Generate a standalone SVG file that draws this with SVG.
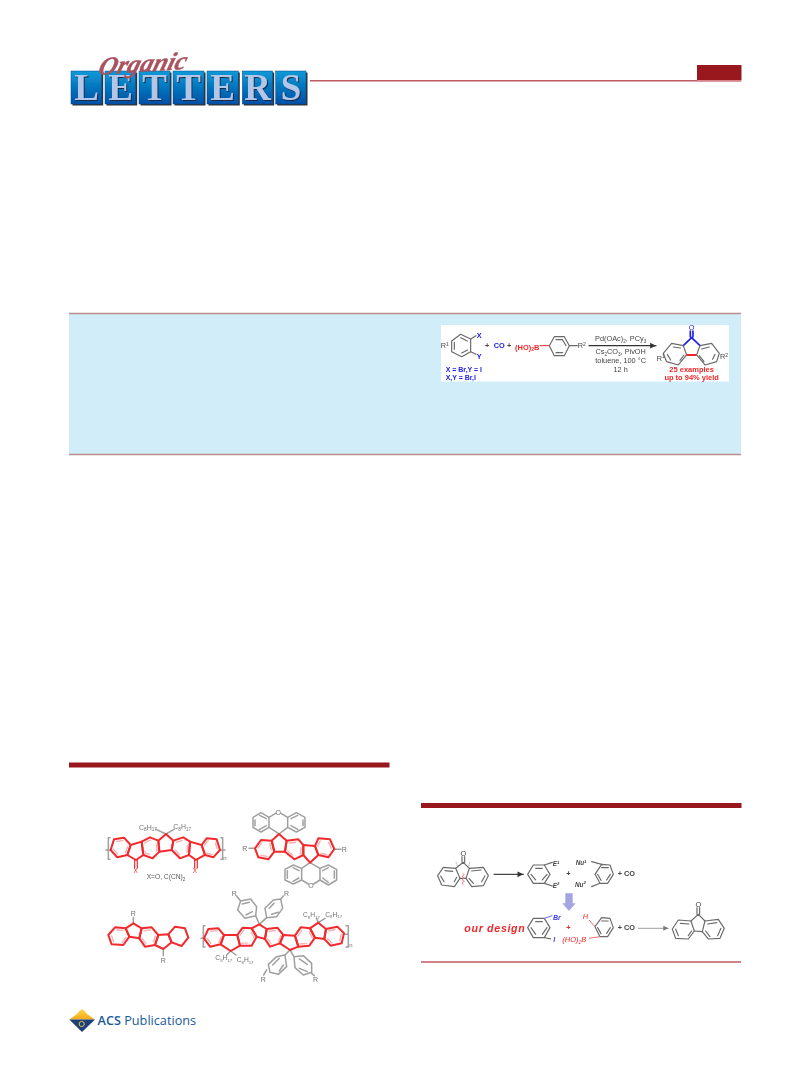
<svg xmlns="http://www.w3.org/2000/svg" width="809" height="1067" viewBox="0 0 809 1067">
<style>
text{font-family:"Liberation Sans",Arial,sans-serif}
.r,.g,.k,.p,.b{fill:none;stroke-linejoin:round;stroke-linecap:round}
.r{stroke:#f2292d;stroke-width:6}
.p{stroke:#f9b4b4;stroke-width:6;stroke-linecap:butt}
.g{stroke:#a0a0a0;stroke-width:4.500}
.k{stroke:#6a6a6a;stroke-width:3.500}
.b{stroke:#2020e0;stroke-width:5}
.gt{fill:#707070;font-size:21px}
.kt{fill:#444;font-size:22px}
.bt{fill:#2222e0;font-size:22px;font-weight:bold}
.rt{fill:#f0282c;font-size:22.500px;font-weight:bold}
.tile{fill:url(#tileFill);stroke:#0a4a96;stroke-width:.5}
.ls{font-family:"Liberation Serif",serif;font-weight:bold;font-size:37px;text-anchor:middle}
.bar{fill:#98181e}
.rule{stroke:#c05a62;stroke-width:1.500}
</style>
<defs>
<linearGradient id="tileFill" x1="0" y1="0" x2="0" y2="1"><stop offset="0" stop-color="#0a9ad6"/><stop offset="1" stop-color="#0050a6"/></linearGradient>
<linearGradient id="gold" x1="0" y1="0" x2="0" y2="1"><stop offset="0" stop-color="#ffd84a"/><stop offset="1" stop-color="#f3a91c"/></linearGradient>
<filter id="soft" x="-5%" y="-5%" width="110%" height="110%"><feGaussianBlur stdDeviation="0.6"/></filter>
<filter id="soft2" x="-5%" y="-5%" width="110%" height="110%"><feGaussianBlur stdDeviation="0.35"/></filter>
<marker id="ah" markerWidth="6" markerHeight="6" refX="5" refY="3" orient="auto"><path d="M0 0.5L5 3L0 5.500Z" fill="#333"/></marker>
<marker id="ahg" markerWidth="6" markerHeight="6" refX="5" refY="3" orient="auto"><path d="M0 0.5L5 3L0 5.500Z" fill="#777"/></marker>
</defs>
<rect width="809" height="1067" fill="#fff"/>

<g id="journal-logo" filter="url(#soft2)">
<g fill="#333">
<rect x="72.500" y="72.500" width="30.700" height="33"/><rect x="106.500" y="72.500" width="30.700" height="33"/><rect x="140.500" y="72.500" width="31" height="33"/><rect x="174.500" y="72.500" width="31" height="33"/><rect x="208.500" y="72.500" width="31.300" height="33"/><rect x="243.800" y="72.500" width="30.400" height="33"/><rect x="277.200" y="72.500" width="30.300" height="33"/>
</g>
<rect class="tile" x="71" y="71" width="30.700" height="33"/><rect class="tile" x="105" y="71" width="30.700" height="33"/><rect class="tile" x="139" y="71" width="31" height="33"/><rect class="tile" x="173" y="71" width="31" height="33"/><rect class="tile" x="207" y="71" width="31.300" height="33"/><rect class="tile" x="242.300" y="71" width="30.400" height="33"/><rect class="tile" x="275.700" y="71" width="30.300" height="33"/>
<g transform="translate(1 1)">
<text class="ls" x="86.500" y="99.500" fill="#1c2a48">L</text><text class="ls" x="120.500" y="99.500" fill="#1c2a48">E</text><text class="ls" x="154.500" y="99.500" fill="#1c2a48">T</text><text class="ls" x="188.500" y="99.500" fill="#1c2a48">T</text><text class="ls" x="222.500" y="99.500" fill="#1c2a48">E</text><text class="ls" x="257.500" y="99.500" fill="#1c2a48">R</text><text class="ls" x="291" y="99.500" fill="#1c2a48">S</text>
</g>
<text class="ls" x="86.500" y="99.500" fill="#b2c6e8">L</text><text class="ls" x="120.500" y="99.500" fill="#b2c6e8">E</text><text class="ls" x="154.500" y="99.500" fill="#b2c6e8">T</text><text class="ls" x="188.500" y="99.500" fill="#b2c6e8">T</text><text class="ls" x="222.500" y="99.500" fill="#b2c6e8">E</text><text class="ls" x="257.500" y="99.500" fill="#b2c6e8">R</text><text class="ls" x="291" y="99.500" fill="#b2c6e8">S</text>
<text x="0" y="0" transform="translate(97 75) rotate(-4) skewX(-20)" textLength="88" lengthAdjust="spacingAndGlyphs" style="font-family:'Liberation Serif',serif;font-style:italic;font-weight:bold;font-size:25px" fill="#a9525f" stroke="#a9525f" stroke-width=".4">Organic</text>
</g>

<g id="page-header">
<line class="rule" x1="310" y1="80.800" x2="741" y2="80.800"/>
<rect class="bar" x="697" y="65" width="44.500" height="15"/>
<rect x="697" y="80" width="44.500" height="1.500" fill="#d8868c"/>
</g>

<g id="abstract-box">
<rect x="69" y="313" width="672" height="142" fill="#d1edfa"/>
<line x1="69" y1="313.500" x2="741" y2="313.500" stroke="#c08c8a" stroke-width="1.500"/>
<line x1="69" y1="454.500" x2="741" y2="454.500" stroke="#c08c8a" stroke-width="1.500"/>
<rect x="441" y="325" width="288" height="56.500" fill="#fff"/>
<g filter="url(#soft)"><g transform="translate(430 315) scale(.3333)">
<polygon class="k" points="92,58 122,72 122,110 95,125 65,110 65,78"/>
<polyline class="k" points="122,72 138,62"/><polyline class="k" points="122,110 138,118"/>
<path class="k" d="M92,68L112,78M113,105L95,114M73,103L73,82"/>
<text class="kt" x="32" y="100">R<tspan font-size="15" dy="-8">1</tspan></text>
<text class="bt" x="140" y="68">X</text><text class="bt" x="140" y="131">Y</text>
<text class="bt" x="47" y="172" style="font-size:21px">X = Br,Y = I</text>
<text class="bt" x="47" y="196" style="font-size:21px">X,Y = Br,I</text>
<text class="kt" x="165" y="100" style="font-weight:bold">+</text><text class="bt" x="191" y="100">CO</text><text class="kt" x="231" y="100" style="font-weight:bold">+</text>
<text class="rt" x="255" y="104">(HO)<tspan font-size="15" dy="5">2</tspan><tspan dy="-5">B</tspan></text>
<polyline class="r" style="stroke-width:3" points="330,92 358,92"/>
<polygon class="k" points="358,92 373,65 403,65 418,92 403,122 373,122"/>
<path class="k" d="M378,74L398,74M378,113L398,113M408,92L398,75"/>
<polyline class="k" points="418,92 442,92"/>
<text class="kt" x="443" y="100">R<tspan font-size="15" dy="-8">2</tspan></text>
<line class="k" x1="477" y1="92" x2="678" y2="92" marker-end="url(#ah)" style="stroke:#333"/>
<text class="kt" x="572" y="79" text-anchor="middle">Pd(OAc)<tspan font-size="14" dy="5">2</tspan><tspan dy="-5">, PCy</tspan><tspan font-size="14" dy="5">3</tspan></text>
<text class="kt" x="572" y="118" text-anchor="middle">Cs<tspan font-size="14" dy="5">2</tspan><tspan dy="-5">CO</tspan><tspan font-size="14" dy="5">3</tspan><tspan dy="-5">, PivOH</tspan></text>
<text class="kt" x="572" y="144" text-anchor="middle">toluene, 100 °C</text>
<text class="kt" x="572" y="170" text-anchor="middle">12 h</text>
<text class="bt" x="785" y="45" text-anchor="middle" style="font-weight:normal">O</text>
<path class="b" d="M781,48L781,66M789,48L789,66M785,68L760,92M785,68L810,92"/>
<polygon class="k" points="725,85 760,92 770,120 745,150 710,140 700,115"/>
<polygon class="k" points="810,92 845,85 868,115 860,140 825,150 800,120"/>
<path class="k" d="M730,96L752,99M712,118L722,135M750,136L762,120M815,102L838,96M855,118L848,133M808,122L822,140"/>
<line x1="770" y1="120" x2="800" y2="120" stroke="#f0282c" stroke-width="6"/>
<text class="kt" x="680" y="138">R<tspan font-size="15" dy="-8">1</tspan></text>
<text class="kt" x="870" y="133">R<tspan font-size="15" dy="-8">2</tspan></text>
<text class="rt" x="785" y="172" text-anchor="middle">25 examples</text>
<text class="rt" x="785" y="195" text-anchor="middle">up to 94% yield</text>
</g></g>
</g>

<g id="section-bars">
<rect class="bar" x="69" y="762.500" width="320.500" height="5"/>
<rect class="bar" x="421" y="803" width="320.500" height="5"/>
<line class="rule" x1="421" y1="962" x2="741" y2="962"/>
</g>

<g id="materials-figure" filter="url(#soft)">
<g id="polymer-ketone" transform="translate(90 800) scale(.3333)">
<path class="g" d="M60,113L55,113L55,178L60,178M393,113L398,113L398,178L393,178M48,150L65,150M390,150L405,150M228,102L198,88M228,102L252,88"/>
<polygon class="p" pathLength="6" stroke-dasharray="1 1" points="72,118 102,113 122,135 112,165 82,172 62,150" transform="translate(92 143) scale(.72) translate(-92 -143)"/>
<polygon class="p" pathLength="6" stroke-dasharray="1 1" points="155,125 180,112 205,122 208,155 188,175 160,165" transform="translate(182 143) scale(.72) translate(-182 -143)"/>
<polygon class="p" pathLength="6" stroke-dasharray="1 1" points="250,122 280,112 300,125 297,165 270,175 245,150" transform="translate(274 143) scale(.72) translate(-274 -143)"/>
<polygon class="p" pathLength="6" stroke-dasharray="1 1" points="335,135 350,115 380,118 390,150 370,172 345,165" transform="translate(362 143) scale(.72) translate(-362 -143)"/>
<polygon class="r" points="72,118 102,113 122,135 112,165 82,172 62,150"/>
<polygon class="r" points="155,125 180,112 205,122 208,155 188,175 160,165"/>
<polygon class="r" points="250,122 280,112 300,125 297,165 270,175 245,150"/>
<polygon class="r" points="335,135 350,115 380,118 390,150 370,172 345,165"/>
<polygon class="r" points="122,135 155,125 160,165 138,180 112,165"/>
<polygon class="r" points="205,122 228,102 250,122 245,150 208,155"/>
<polygon class="r" points="300,125 335,135 345,165 318,180 297,165"/>
<path class="r" style="stroke-width:3.500" d="M134,181L134,204M142,181L142,204M314,181L314,204M322,181L322,204"/>
<text class="rt" x="137" y="219" text-anchor="middle" style="font-weight:normal;font-size:19px">X</text>
<text class="rt" x="315" y="219" text-anchor="middle" style="font-weight:normal;font-size:19px">X</text>
<text class="gt" x="147" y="89">C<tspan font-size="14" dy="5">8</tspan><tspan dy="-5">H</tspan><tspan font-size="14" dy="5">17</tspan></text>
<text class="gt" x="250" y="87">C<tspan font-size="14" dy="5">8</tspan><tspan dy="-5">H</tspan><tspan font-size="14" dy="5">17</tspan></text>
<text class="gt" x="400" y="180" style="font-size:18px">n</text>
<text class="gt" x="170" y="237" style="fill:#555;font-size:20px">X=O, C(CN)<tspan font-size="14" dy="5">2</tspan></text>
</g>
<g id="spiro-xanthene" transform="translate(235 800) scale(.3333)">
<polygon class="g" points="78,38 102,52 102,82 78,96 54,82 54,52"/><polygon class="g" points="184,38 158,52 158,82 184,96 210,82 210,52"/>
<path class="g" d="M102,52L122,40M138,40L158,52M102,82L132,102L158,82"/>
<path class="g" d="M60,60L60,77M74,46L94,56M74,88L94,77M204,60L204,77M188,46L168,56M188,88L168,77"/>
<polygon class="g" points="175,195 200,205 200,240 175,252 150,240 150,208"/><polygon class="g" points="280,195 255,205 255,240 280,255 305,240 305,208"/>
<path class="g" d="M225,188L200,205M225,188L255,205M200,240L220,252M236,252L255,240"/>
<path class="g" d="M157,212L157,235M174,203L192,212M174,244L192,234M298,212L298,235M280,203L263,212M280,247L263,234"/>
<path class="g" d="M42,145L60,145M298,148L318,148"/>
<text class="gt" x="130" y="45" text-anchor="middle">O</text><text class="gt" x="228" y="265" text-anchor="middle">O</text>
<text class="gt" x="22" y="152">R</text><text class="gt" x="320" y="156">R</text>
<polygon class="p" pathLength="6" stroke-dasharray="1 1" points="110,122 118,155 100,178 70,172 60,145 78,120" transform="translate(88 148) scale(.72) translate(-88 -148)"/>
<polygon class="p" pathLength="6" stroke-dasharray="1 1" points="155,122 190,118 205,135 205,165 178,178 150,155" transform="translate(178 148) scale(.72) translate(-178 -148)"/>
<polygon class="p" pathLength="6" stroke-dasharray="1 1" points="240,138 250,115 285,118 298,147 280,172 250,165" transform="translate(268 145) scale(.72) translate(-268 -145)"/>
<polygon class="r" points="110,122 118,155 100,178 70,172 60,145 78,120"/>
<polygon class="r" points="155,122 190,118 205,135 205,165 178,178 150,155"/>
<polygon class="r" points="240,138 250,115 285,118 298,147 280,172 250,165"/>
<polygon class="r" points="132,102 155,122 150,155 118,155 110,122"/>
<polygon class="r" points="205,135 240,138 250,165 225,188 205,165"/>
</g>
<g id="indenofluorene" transform="translate(90 885) scale(.3333)">
<path class="g" d="M130,97L130,115M220,192L220,212"/>
<text class="gt" x="130" y="93" text-anchor="middle">R</text><text class="gt" x="220" y="233" text-anchor="middle">R</text>
<polygon class="p" pathLength="6" stroke-dasharray="1 1" points="75,127 107,130 118,155 100,180 65,178 55,150" transform="translate(88 153) scale(.72) translate(-88 -153)"/>
<polygon class="p" pathLength="6" stroke-dasharray="1 1" points="155,130 185,127 205,150 195,180 165,185 148,160" transform="translate(175 155) scale(.72) translate(-175 -155)"/>
<polygon class="r" points="75,127 107,130 118,155 100,180 65,178 55,150"/>
<polygon class="r" points="107,130 130,115 155,130 148,160 118,155"/>
<polygon class="r" points="155,130 185,127 205,150 195,180 165,185 148,160"/>
<polygon class="r" points="205,150 235,148 245,172 220,192 195,180"/>
<polygon class="r" points="235,148 255,125 285,130 295,158 275,183 245,172"/>
</g>
<g id="polymer-aryl" transform="translate(90 885) scale(.3333)">
<path class="g" d="M345,122L340,122L340,186L345,186M768,122L775,122L775,186L768,186M333,160L345,160M762,148L775,148"/>
<path class="g" d="M508,118L497,92M508,118L530,98M452,48L440,33M572,42L580,33M422,198L410,210M422,198L438,210M685,113L680,100M685,113L705,100M600,195L585,210M600,195L612,215M530,255L521,270M665,265L673,272"/>
<polygon class="g" points="452,48 482,42 500,65 497,92 465,100 443,75"/>
<polygon class="g" points="525,70 550,45 572,42 578,70 560,95 530,98"/>
<polygon class="g" points="585,210 560,215 535,238 540,262 565,268 590,245"/>
<polygon class="g" points="612,215 640,212 665,235 665,262 640,270 615,248"/>
<path class="g" d="M457,57L478,52M487,80L468,90M538,70L552,55M565,82L545,88M548,240L568,220M568,258L580,240M628,222L652,238M628,250L652,260"/>
<text class="gt" x="433" y="32" text-anchor="middle">R</text><text class="gt" x="590" y="33" text-anchor="middle">R</text>
<text class="gt" x="520" y="292" text-anchor="middle">R</text><text class="gt" x="677" y="292" text-anchor="middle">R</text>
<text class="gt" x="639" y="97" style="font-size:20px">C<tspan font-size="13" dy="5">8</tspan><tspan dy="-5">H</tspan><tspan font-size="13" dy="5">17</tspan></text>
<text class="gt" x="706" y="95" style="font-size:20px">C<tspan font-size="13" dy="5">8</tspan><tspan dy="-5">H</tspan><tspan font-size="13" dy="5">17</tspan></text>
<text class="gt" x="376" y="225" style="font-size:20px">C<tspan font-size="13" dy="5">8</tspan><tspan dy="-5">H</tspan><tspan font-size="13" dy="5">17</tspan></text>
<text class="gt" x="440" y="231" style="font-size:20px">C<tspan font-size="13" dy="5">8</tspan><tspan dy="-5">H</tspan><tspan font-size="13" dy="5">17</tspan></text>
<text class="gt" x="778" y="186" style="font-size:18px">n</text>
<polygon class="p" pathLength="6" stroke-dasharray="1 1" points="355,132 385,130 402,150 392,178 360,185 342,160" transform="translate(375 157) scale(.72) translate(-375 -157)"/>
<polygon class="p" pathLength="6" stroke-dasharray="1 1" points="442,150 458,128 485,130 500,155 485,182 450,182" transform="translate(470 155) scale(.72) translate(-470 -155)"/>
<polygon class="p" pathLength="6" stroke-dasharray="1 1" points="530,132 562,128 580,150 570,175 540,185 525,162" transform="translate(553 157) scale(.72) translate(-553 -157)"/>
<polygon class="p" pathLength="6" stroke-dasharray="1 1" points="615,152 632,127 660,130 675,158 658,182 625,185" transform="translate(645 157) scale(.72) translate(-645 -157)"/>
<polygon class="p" pathLength="6" stroke-dasharray="1 1" points="708,132 742,125 762,145 755,175 722,182 703,162" transform="translate(733 153) scale(.72) translate(-733 -153)"/>
<polygon class="r" points="355,132 385,130 402,150 392,178 360,185 342,160"/>
<polygon class="r" points="402,150 442,150 450,182 422,198 392,178"/>
<polygon class="r" points="442,150 458,128 485,130 500,155 485,182 450,182"/>
<polygon class="r" points="485,130 508,118 530,132 525,162 500,155"/>
<polygon class="r" points="530,132 562,128 580,150 570,175 540,185 525,162"/>
<polygon class="r" points="580,150 615,152 625,185 600,195 570,175"/>
<polygon class="r" points="615,152 632,127 660,130 675,158 658,182 625,185"/>
<polygon class="r" points="660,130 685,113 708,132 703,162 675,158"/>
<polygon class="r" points="708,132 742,125 762,145 755,175 722,182 703,162"/>
</g>
</g>

<g id="retrosynthesis-figure" filter="url(#soft)">
<g transform="translate(425 825) scale(.3333)">
<g id="fluorenone-retro">
<polygon class="k" points="55,127 92,130 105,160 88,185 50,180 38,152"/>
<polygon class="k" points="133,130 175,127 190,152 175,182 140,185 123,160"/>
<path class="k" d="M115,112L92,130M115,112L133,130M105,160L123,160M111,95L111,112M119,95L119,112M60,137L83,139M47,153L57,170M88,170L95,157M140,138L168,135M180,152L170,170M132,160L145,175"/>
<path d="M113,145l5,4l-7,5l7,5l-7,5l7,5l-7,5l5,5" fill="none" stroke="#f06a6a" stroke-width="2.500"/>
<path d="M93,112l6,16M135,112l-6,16" fill="none" stroke="#999" stroke-width="3" stroke-dasharray="4 3"/>
<text class="kt" x="115" y="92" text-anchor="middle">O</text>
</g>
<line x1="207" y1="148" x2="295" y2="148" class="k" style="stroke:#444" marker-end="url(#ah)"/>
<g id="retro-products">
<polygon class="k" points="325,120 358,120 375,148 358,175 325,175 308,148"/>
<path class="k" d="M332,130L352,130M366,148L352,165M332,165L318,148M358,120L382,112M358,175L382,183"/>
<text class="kt" x="383" y="123" style="font-size:19px;font-style:italic;font-weight:bold">E<tspan font-size="13" dy="-7">1</tspan></text>
<text class="kt" x="383" y="188" style="font-size:19px;font-style:italic;font-weight:bold">E<tspan font-size="13" dy="-7">2</tspan></text>
<text class="kt" x="430" y="154" text-anchor="middle" style="font-weight:bold">+</text>
<polygon class="k" points="510,148 530,118 555,120 565,148 548,175 525,175"/>
<path class="k" d="M530,128L550,128M556,148L545,165M518,148L528,166M530,118L500,110M525,175L500,185"/>
<text class="kt" x="452" y="120" style="font-size:19px;font-style:italic;font-weight:bold">Nu<tspan font-size="13" dy="-7">1</tspan></text>
<text class="kt" x="450" y="185" style="font-size:19px;font-style:italic;font-weight:bold">Nu<tspan font-size="13" dy="-7">2</tspan></text>
<text class="kt" x="578" y="154" style="font-weight:bold">+ CO</text>
</g>
<polygon points="421,205 443,205 443,235 452,235 432,258 412,235 421,235" fill="#a3a5e3"/>
<text x="118" y="320" fill="#f0282c" style="font-style:italic;font-weight:bold;font-size:32px" letter-spacing="2">our design</text>
<g id="design-reactants">
<polygon class="k" points="325,280 358,280 375,308 358,338 325,338 308,308"/>
<path class="k" d="M332,290L352,290M366,308L352,328M332,328L318,308"/>
<path d="M358,280L382,272" stroke="#6a6ae8" stroke-width="3"/>
<path d="M358,338L378,342" stroke="#555" stroke-width="3"/>
<text x="384" y="284" fill="#3c3ce6" style="font-size:21px;font-style:italic;font-weight:bold">Br</text>
<text x="385" y="350" fill="#3c3ce6" style="font-size:21px;font-style:italic;font-weight:bold">I</text>
<text class="rt" x="430" y="314" text-anchor="middle">+</text>
<polygon class="k" points="510,305 530,278 555,280 565,308 548,335 525,335"/>
<path class="k" d="M530,288L550,288M556,308L545,325M518,308L528,326"/>
<path d="M510,305L492,285M525,335L492,340" stroke="#f06a6a" stroke-width="3"/>
<text class="rt" x="473" y="283" style="font-style:italic;font-weight:normal">H</text>
<text class="rt" x="412" y="351" style="font-style:italic;font-weight:normal">(HO)<tspan font-size="14" dy="5">2</tspan><tspan dy="-5">B</tspan></text>
<text class="kt" x="578" y="315" style="font-weight:bold">+ CO</text>
</g>
<line x1="640" y1="310" x2="730" y2="310" class="g" style="stroke-width:3" marker-end="url(#ahg)"/>
<g id="fluorenone-product">
<polygon class="k" points="760,285 798,288 808,318 790,342 752,340 742,312"/>
<polygon class="k" points="840,288 880,283 898,310 885,340 850,342 832,320"/>
<path class="k" d="M820,268L798,288M820,268L840,288M808,318L832,320M816,248L816,268M824,248L824,268M766,295L792,297M752,312L760,332M790,332L800,318M848,297L875,293M888,310L878,332M842,318L855,335"/>
<text class="kt" x="820" y="246" text-anchor="middle">O</text>
</g>
</g>
</g>

<g id="acs-logo">
<g filter="url(#soft2)">
<polygon points="69.300,1019.500 77,1014 79.500,1011 82,1009 84.500,1011 87,1014 95,1019.500" fill="url(#gold)"/>
<polygon points="69.300,1019.500 95,1019.500 82,1032" fill="#1d3f78"/>
<circle cx="81.700" cy="1024" r="2.600" fill="none" stroke="#e4c552" stroke-width="1"/>
</g>
<text x="97.500" y="1024.500" font-size="12.700" fill="#1a5a9c" style="font-family:'Open Sans','Liberation Sans',sans-serif"><tspan font-weight="600">ACS</tspan> Publications</text>
</g>
</svg>
